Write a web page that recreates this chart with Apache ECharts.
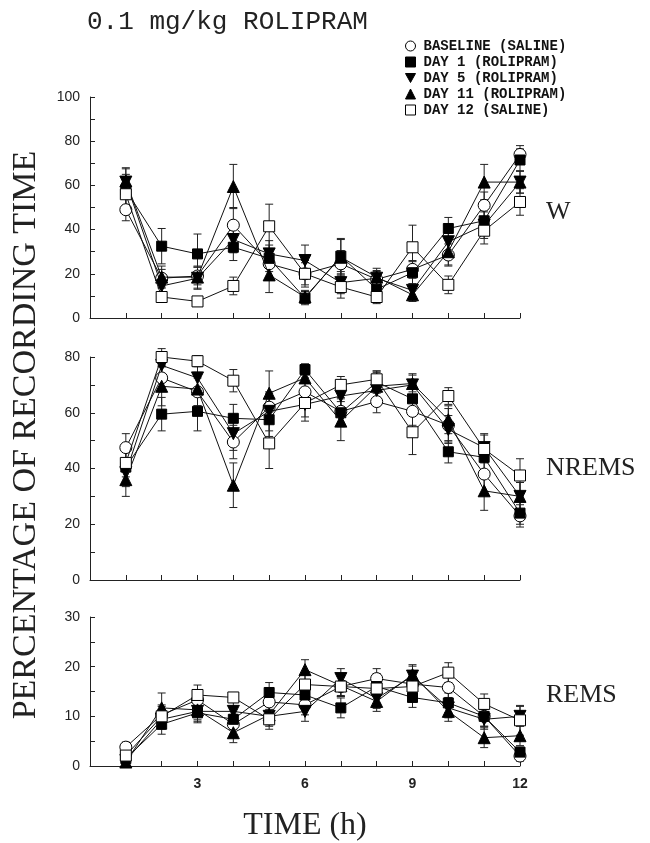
<!DOCTYPE html>
<html>
<head>
<meta charset="utf-8">
<script src="https://cdn.jsdelivr.net/npm/echarts@6/dist/echarts.min.js"></script>
<style>
html,body{margin:0;padding:0;background:#fff;}
#chart{width:650px;height:843px;}
</style>
</head>
<body>
<div id="chart"></div>
<script>
// ---- data ----
var hours = [1,2,3,4,5,6,7,8,9,10,11,12];
var seriesNames = ['BASELINE (SALINE)','DAY 1 (ROLIPRAM)','DAY 5 (ROLIPRAM)','DAY 11 (ROLIPRAM)','DAY 12 (SALINE)'];
var xTickLabels = [3,6,9,12];

// W (wakefulness) %
var wBaseline = [49, 18, 19, 42, 24.5, 20, 24.5, 17.5, 22, 28.5, 51, 74];
var wDay1     = [58, 32.5, 29, 32, 27, 9, 28, 13, 20.5, 40.5, 44, 71.5];
var wDay5     = [61.5, 14.5, 18, 35.5, 29, 26, 16, 18, 12.5, 34.5, 42, 61.5];
var wDay11    = [62, 18.5, 18.5, 59.5, 19.5, 9.5, 27.5, 18.5, 10.5, 30, 61.5, 61.5];
var wDay12    = [56, 9.5, 7.5, 14.5, 41.5, 20, 14, 9.5, 32, 15, 39.5, 52.5];
var wErrBaseline = [5, 4, 4, 8, 6, 5, 6, 4, 4, 5, 6, 4];
var wErrDay1     = [7, 8, 9, 6, 6, 3, 8, 4, 5, 5, 5, 5];
var wErrDay5     = [6, 4, 5, 6, 6, 7, 5, 3, 3, 5, 6, 5];
var wErrDay11    = [6, 5, 5, 10, 8, 3, 8, 4, 3, 6, 8, 5];
var wErrDay12    = [6, 2, 2, 4, 10, 6, 5, 3, 10, 4, 6, 6];

// NREMS %
var nBaseline = [47.5, 72.5, 67.5, 49.5, 62, 67.5, 60.5, 64, 60.5, 55.5, 38, 23];
var nDay1     = [40.5, 59.5, 60.5, 58, 57.5, 75.5, 60, 71, 65, 46, 44, 24];
var nDay5     = [38.5, 77, 72.5, 52.5, 60.5, 63, 66, 68, 70, 54, 47.5, 30];
var nDay11    = [36, 69.5, 68.5, 34, 67, 72.5, 57, 69.5, 70.5, 57.5, 32, 30];
var nDay12    = [42, 80, 78.5, 71.5, 49, 63.5, 70, 72, 53, 66, 47, 37.5];
var nErrBaseline = [5, 4, 5, 6, 5, 5, 5, 4, 5, 6, 7, 4];
var nErrDay1     = [6, 6, 7, 5, 6, 2, 5, 4, 5, 4, 5, 4];
var nErrDay5     = [5, 4, 5, 6, 7, 6, 5, 4, 4, 5, 5, 5];
var nErrDay11    = [6, 7, 6, 8, 8, 5, 7, 5, 3, 5, 7, 5];
var nErrDay12    = [5, 3, 2, 4, 9, 5, 3, 3, 8, 3, 5, 6];

// REMS %
var rBaseline = [3.8, 10.3, 13.3, 8.4, 12.9, 12.3, 16, 17.6, 16.5, 15.8, 10, 2];
var rDay1     = [1.5, 8.4, 10.7, 9.4, 14.8, 14.3, 11.7, 16, 13.8, 12.7, 10, 2.8];
var rDay5     = [1.1, 9.4, 11, 11, 10, 11, 17.6, 13.6, 18.1, 11.7, 9.4, 10];
var rDay11    = [0.8, 11.7, 11.3, 6.7, 10.3, 19.4, 16.2, 13, 18.4, 11, 5.7, 6.1];
var rDay12    = [2.1, 10, 14.3, 13.8, 9.4, 16.4, 16, 15.6, 16, 18.8, 12.5, 9.2];
var rErrBaseline = [1, 2, 2, 2, 2, 2, 2, 2, 2, 2, 2, 1];
var rErrDay1     = [1, 2, 2, 2, 2, 2, 2, 2, 2, 2, 2, 1];
var rErrDay5     = [1, 2, 2, 2, 2, 2, 2, 2, 2, 2, 2, 2];
var rErrDay11    = [1, 3, 2, 2, 2, 2, 2, 2, 2, 2, 2, 2];
var rErrDay12    = [1, 2, 2, 1, 2, 2, 2, 3, 3, 2, 2, 3];

var panelLabels = ['W', 'NREMS', 'REMS'];
var panelMax = [100, 80, 30];
var panelTick = [10, 10, 5];
var panelLabelStep = [20, 20, 10];

// ---- build ----
var panels = [
  {vals:[wBaseline,wDay1,wDay5,wDay11,wDay12], errs:[wErrBaseline,wErrDay1,wErrDay5,wErrDay11,wErrDay12]},
  {vals:[nBaseline,nDay1,nDay5,nDay11,nDay12], errs:[nErrBaseline,nErrDay1,nErrDay5,nErrDay11,nErrDay12]},
  {vals:[rBaseline,rDay1,rDay5,rDay11,rDay12], errs:[rErrBaseline,rErrDay1,rErrDay5,rErrDay11,rErrDay12]}
];

var styles = [
  {symbol:'circle', size:12, rotate:0, fill:'#fff'},
  {symbol:'rect', size:10, rotate:0, fill:'#000'},
  {symbol:'triangle', size:12, rotate:180, fill:'#000'},
  {symbol:'triangle', size:12, rotate:0, fill:'#000'},
  {symbol:'rect', size:11, rotate:0, fill:'#fff'}
];
var legendIcons = ['circle','rect','path://M0,0L10,0L5,9Z','triangle','rect'];

var grids = [
  {left:90, width:430, top:97, height:221},
  {left:90, width:430, top:357, height:223},
  {left:90, width:430, top:617, height:151}
];

var axisFont = {fontFamily:'Liberation Sans', fontSize:14, color:'#222'};

var xAxes = grids.map(function(g, i){
  return {
    type:'value', gridIndex:i, min:0, max:12, interval:1,
    axisLine:{show:true, onZero:false, lineStyle:{color:'#222', width:1}},
    axisTick:{show:true, inside:true, length:5, lineStyle:{color:'#222'}},
    splitLine:{show:false},
    axisLabel:{show:i===2, margin:11, fontFamily:axisFont.fontFamily, fontSize:axisFont.fontSize, color:axisFont.color, fontWeight:'bold',
      formatter:function(v){ return xTickLabels.indexOf(v) >= 0 ? String(v) : ''; }},
    name: i===2 ? 'TIME (h)' : '',
    nameLocation:'middle', nameGap:44,
    nameTextStyle:{fontFamily:'Liberation Serif', fontSize:32, color:'#222'}
  };
});
var yAxes = grids.map(function(g, i){
  return {
    type:'value', gridIndex:i, min:0, max:panelMax[i], interval:panelTick[i],
    axisLine:{show:true, lineStyle:{color:'#222', width:1}},
    axisTick:{show:true, inside:true, length:5, lineStyle:{color:'#222'}},
    splitLine:{show:false},
    axisLabel:{margin:10, fontFamily:axisFont.fontFamily, fontSize:axisFont.fontSize, color:axisFont.color,
      formatter:(function(step){ return function(v){ return (v % step === 0) ? String(v) : ''; }; })(panelLabelStep[i])}
  };
});

function renderErr(params, api){
  var x = api.value(0), y = api.value(1), e = api.value(2);
  var t = api.coord([x, y + e]);
  var b = api.coord([x, Math.max(0, y - e)]);
  var hw = 4;
  var st = {stroke:'#222', lineWidth:1};
  return {type:'group', children:[
    {type:'line', shape:{x1:t[0], y1:t[1], x2:b[0], y2:b[1]}, style:st},
    {type:'line', shape:{x1:t[0]-hw, y1:t[1], x2:t[0]+hw, y2:t[1]}, style:st},
    {type:'line', shape:{x1:b[0]-hw, y1:b[1], x2:b[0]+hw, y2:b[1]}, style:st}
  ]};
}

var series = [];
panels.forEach(function(p, pi){
  p.vals.forEach(function(vals, si){
    series.push({
      type:'custom', name:'err'+pi+'_'+si, xAxisIndex:pi, yAxisIndex:pi,
      renderItem:renderErr, encode:{x:0, y:1}, z:1, silent:true,
      data: hours.map(function(h, k){ return [h, vals[k], p.errs[si][k]]; })
    });
  });
  p.vals.forEach(function(vals, si){
    var s = styles[si];
    series.push({
      type:'line', name:seriesNames[si], xAxisIndex:pi, yAxisIndex:pi, z:2+si,
      symbol:s.symbol, symbolSize:s.size, symbolRotate:s.rotate, showAllSymbol:true,
      itemStyle:{color:s.fill, borderColor:'#000', borderWidth:1, opacity:1},
      lineStyle:{color:'#111', width:1},
      emphasis:{disabled:true},
      data: hours.map(function(h, k){ return [h, vals[k]]; })
    });
  });
});

var option = {
  animation:false,
  backgroundColor:'#fff',
  grid: grids,
  xAxis: xAxes,
  yAxis: yAxes,
  legend:{
    orient:'vertical', left:400, top:34, itemWidth:10, itemHeight:10, itemGap:2,
    selectedMode:false,
    textStyle:{fontFamily:'Liberation Mono', fontWeight:'bold', fontSize:14, color:'#111', lineHeight:14, padding:[0,0,0,3]},
    data: seriesNames.map(function(n, i){
      return {name:n, icon:legendIcons[i], itemStyle:{color:styles[i].fill, borderColor:'#000', borderWidth:1}};
    })
  },
  graphic:[
    {type:'text', left:87, top:9, style:{text:'0.1 mg/kg ROLIPRAM', font:'26px "Liberation Mono"', fill:'#222'}},
    {type:'text', x:26, y:435, rotation:Math.PI/2,
      style:{text:'PERCENTAGE OF RECORDING TIME', font:'34px "Liberation Serif"', fill:'#222', textAlign:'center', textVerticalAlign:'middle', align:'center', verticalAlign:'middle'}},
    {type:'text', x:546, y:212, style:{text:panelLabels[0], font:'26px "Liberation Serif"', fill:'#222', textVerticalAlign:'middle', verticalAlign:'middle'}},
    {type:'text', x:546, y:468, style:{text:panelLabels[1], font:'26px "Liberation Serif"', fill:'#222', textVerticalAlign:'middle', verticalAlign:'middle'}},
    {type:'text', x:546, y:695, style:{text:panelLabels[2], font:'26px "Liberation Serif"', fill:'#222', textVerticalAlign:'middle', verticalAlign:'middle'}}
  ],
  series: series
};

var chart = echarts.init(document.getElementById('chart'), null, {renderer:'canvas'});
chart.setOption(option);
</script>
</body>
</html>
